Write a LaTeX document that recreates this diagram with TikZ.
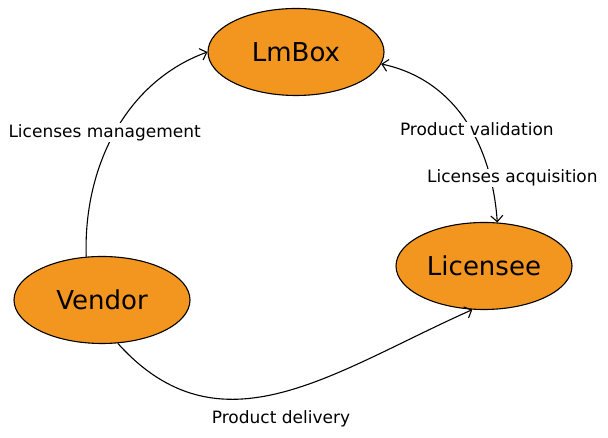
\documentclass[tikz,border=0pt]{standalone}
\usepackage{fontspec}
\setmainfont{DejaVu Sans}
\usetikzlibrary{shapes.geometric,arrows.meta}

\definecolor{boxorange}{RGB}{242,150,31}

\tikzset{
    actor/.style={ellipse, draw, line width=1.1pt, fill=boxorange, minimum width=176pt, minimum height=87pt, font=\fontsize{26}{30}\selectfont},
    flow/.style={draw, line width=1.1pt, -{Straight Barb[length=6pt,width=12pt]}},
    flowlabel/.style={fill=white, inner sep=1pt, font=\fontsize{17}{20}\selectfont}
}

\begin{document}
\begin{tikzpicture}[x=1pt,y=1pt]
    \useasboundingbox (0,0) rectangle (608,438);
    \node[actor] at (296,386) (L) {LmBox};
    \node[actor] at (484,172) (C) {Licensee};
    \node[actor] at (102,138) (V) {Vendor};
    \draw[flow] (V.110) to[out=92, in=-160, looseness=0.95] node [flowlabel, pos=0.5, xshift=-10pt] {Licenses management} (L.west);
    \draw[flow, {Straight Barb[length=6pt,width=12pt]}-{Straight Barb[length=6pt,width=12pt]}] (L.-8) to[out=-12, in=94] node [flowlabel, pos=0.55, xshift=6pt] {Product validation} node [flowlabel, pos=0.8, xshift=22pt] {Licenses acquisition} (C.73);
    \draw[flow] (V.-70) to[out=-48, in=-156, looseness=1.1] node [flowlabel, pos=0.5, below=16pt] {Product delivery} (C.-105);
\end{tikzpicture}
\end{document}
